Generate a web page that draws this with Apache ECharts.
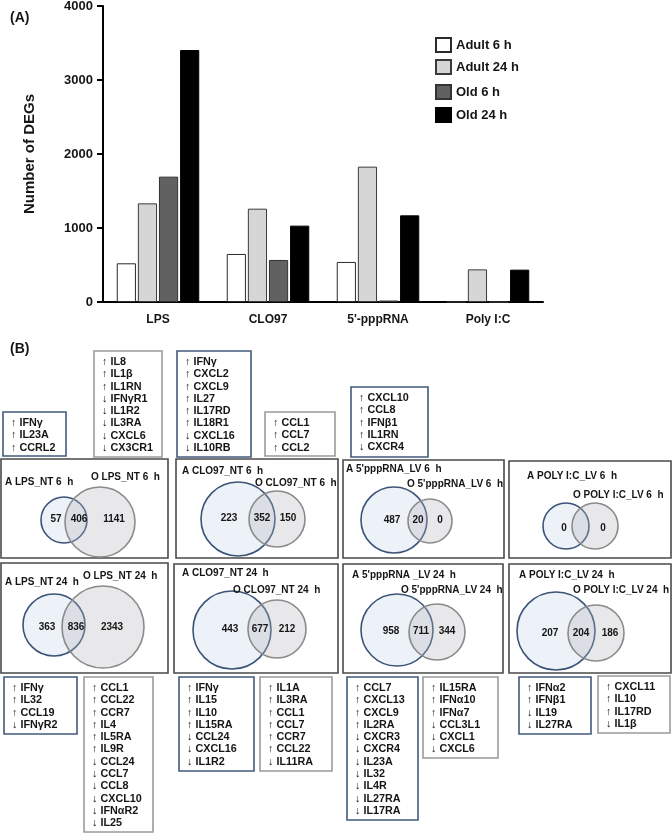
<!DOCTYPE html>
<html>
<head>
<meta charset="utf-8">
<script src="https://cdn.jsdelivr.net/npm/echarts@6/dist/echarts.min.js"></script>
<style>html,body{margin:0;padding:0;background:#fff}#c{width:672px;height:833px}</style>
</head>
<body>
<div id="c"></div>
<script>
// ---------- Panel A data ----------
const categories = ['LPS', 'CLO97', "5'-pppRNA", 'Poly I:C'];
const adult6h  = [523, 649, 541, 0];
const adult24h = [1333, 1261, 1829, 441];
const old6h    = [1694, 568, 20, 0];
const old24h   = [3405, 1032, 1171, 437];
const yTickValues = [0, 1000, 2000, 3000, 4000];

// ---------- Panel B data (Venn counts) ----------
const vennTitleA = ['A LPS_NT 6  h', 'A CLO97_NT 6  h', "A 5'pppRNA_LV 6  h", 'A POLY I:C_LV 6  h',
                    'A LPS_NT 24  h', 'A CLO97_NT 24  h', "A 5'pppRNA _LV 24  h", 'A POLY I:C_LV 24  h'];
const vennTitleO = ['O LPS_NT 6  h', 'O CLO97_NT 6  h', "O 5'pppRNA_LV 6  h", 'O POLY I:C_LV 6  h',
                    'O LPS_NT 24  h', 'O CLO97_NT 24  h', "O 5'pppRNA_LV 24  h", 'O POLY I:C_LV 24  h'];
const adultOnly = [57, 223, 487, 0, 363, 443, 958, 207];
const shared    = [406, 352, 20, null, 836, 677, 711, 204];
const oldOnly   = [1141, 150, 0, 0, 2343, 212, 344, 186];

// ---------- Panel B gene lists ----------
const genesA_LPS6   = ['↑ IFNγ', '↑ IL23A', '↑ CCRL2'];
const genesO_LPS6   = ['↑ IL8', '↑ IL1β', '↑ IL1RN', '↓ IFNγR1', '↓ IL1R2', '↓ IL3RA', '↓ CXCL6', '↓ CX3CR1'];
const genesA_CLO6   = ['↑ IFNγ', '↑ CXCL2', '↑ CXCL9', '↑ IL27', '↑ IL17RD', '↑ IL18R1', '↓ CXCL16', '↓ IL10RB'];
const genesO_CLO6   = ['↑ CCL1', '↑ CCL7', '↑ CCL2'];
const genesA_PPP6   = ['↑ CXCL10', '↑ CCL8', '↑ IFNβ1', '↑ IL1RN', '↓ CXCR4'];
const genesA_LPS24  = ['↑ IFNγ', '↑ IL32', '↑ CCL19', '↓ IFNγR2'];
const genesO_LPS24  = ['↑ CCL1', '↑ CCL22', '↑ CCR7', '↑ IL4', '↑ IL5RA', '↑ IL9R', '↓ CCL24', '↓ CCL7', '↓ CCL8', '↓ CXCL10', '↓ IFNαR2', '↓ IL25'];
const genesA_CLO24  = ['↑ IFNγ', '↑ IL15', '↑ IL10', '↑ IL15RA', '↓ CCL24', '↓ CXCL16', '↓ IL1R2'];
const genesO_CLO24  = ['↑ IL1A', '↑ IL3RA', '↑ CCL1', '↑ CCL7', '↑ CCR7', '↑ CCL22', '↓ IL11RA'];
const genesA_PPP24  = ['↑ CCL7', '↑ CXCL13', '↑ CXCL9', '↑ IL2RA', '↓ CXCR3', '↓ CXCR4', '↓ IL23A', '↓ IL32', '↓ IL4R', '↓ IL27RA', '↓ IL17RA'];
const genesO_PPP24  = ['↑ IL15RA', '↑ IFNα10', '↑ IFNα7', '↓ CCL3L1', '↓ CXCL1', '↓ CXCL6'];
const genesA_POLY24 = ['↑ IFNα2', '↑ IFNβ1', '↓ IL19', '↓ IL27RA'];
const genesO_POLY24 = ['↑ CXCL11', '↑ IL10', '↑ IL17RD', '↓ IL1β'];
const geneLists = [genesA_LPS6, genesO_LPS6, genesA_CLO6, genesO_CLO6, genesA_PPP6,
                   genesA_LPS24, genesO_LPS24, genesA_CLO24, genesO_CLO24, genesA_PPP24, genesO_PPP24, genesA_POLY24, genesO_POLY24];

// ---------- Layout (positions / sizes, in page units) ----------
const vennLayout = [
  {box:[1,459,168,558], tA:[5,482], tO:[91,477], a:[64,520,23], o:[100,522,35], lx:[56,79,114], ly:519},
  {box:[176,459,338,558], tA:[182,471], tO:[255,483], a:[238,519,37], o:[277,519,28], lx:[229,262,288], ly:518},
  {box:[343,460,504,558], tA:[346,469], tO:[407,484], a:[394,520,33], o:[430,521,22], lx:[392,418,440], ly:520},
  {box:[509,461,671,558], tA:[527,476], tO:[573,495], a:[566,526,23], o:[595,526,23], lx:[564,580,603], ly:528},
  {box:[1,563,168,673], tA:[5,582], tO:[83,576], a:[54,625,31], o:[103,627,41], lx:[47,76,112], ly:627},
  {box:[174,564,338,673], tA:[182,573], tO:[233,590], a:[232,630,39], o:[277,629,29], lx:[230,260,287], ly:629},
  {box:[343,564,503,673], tA:[352,575], tO:[401,590], a:[397,630,36], o:[437,632,28], lx:[391,421,447], ly:631},
  {box:[509,564,671,673], tA:[519,575], tO:[573,590], a:[556,631,39], o:[596,633,28], lx:[550,581,610], ly:633}
];
const listLayout = [
  {box:[3,412,66,456], kind:'A'},
  {box:[94,351,162,457], kind:'O'},
  {box:[177,351,251,457], kind:'A'},
  {box:[265,412,335,456], kind:'O'},
  {box:[351,387,428,457], kind:'A'},
  {box:[4,677,77,734], kind:'A'},
  {box:[84,677,153,832], kind:'O'},
  {box:[179,677,254,771], kind:'A'},
  {box:[260,677,332,771], kind:'O'},
  {box:[347,677,418,820], kind:'A'},
  {box:[423,677,498,758], kind:'O'},
  {box:[519,677,591,734], kind:'A'},
  {box:[598,676,670,733], kind:'O'}
];

const FONT = 'Liberation Sans, Arial, Helvetica, sans-serif';
const TXT = '#151515';

function txt(x, y, s, align, size) {
  return {type:'text', style:{text:String(s), x:x, y:y, fill:TXT, fontSize:size || 10, fontWeight:'bold', fontFamily:FONT, align:align || 'left', verticalAlign:'middle'}};
}

function renderVenn(params, api) {
  const i = params.dataIndex;
  const L = vennLayout[i];
  const p = (x, y) => api.coord([x, y]);
  const s = r => api.size([r, 0])[0];
  const b0 = p(L.box[0], L.box[1]), b1 = p(L.box[2], L.box[3]);
  const ca = p(L.a[0], L.a[1]), co = p(L.o[0], L.o[1]);
  const ch = [];
  ch.push({type:'rect', shape:{x:b0[0], y:b0[1], width:b1[0]-b0[0], height:b1[1]-b0[1]}, style:{fill:'#fff', stroke:'#4a4a4a', lineWidth:1.6}});
  ch.push({type:'circle', shape:{cx:ca[0], cy:ca[1], r:s(L.a[2])}, style:{fill:'#edf1f8', stroke:'#3a5377', lineWidth:1.6}});
  ch.push({type:'circle', shape:{cx:co[0], cy:co[1], r:s(L.o[2])}, style:{fill:'rgba(180,180,185,0.30)', stroke:'#8a8a8a', lineWidth:1.6}});
  const ta = p(L.tA[0], L.tA[1]), to = p(L.tO[0], L.tO[1]);
  ch.push(txt(ta[0], ta[1], vennTitleA[i]));
  ch.push(txt(to[0], to[1], vennTitleO[i]));
  const vals = [adultOnly[i], shared[i], oldOnly[i]];
  for (let k = 0; k < 3; k++) {
    if (vals[k] === null || vals[k] === undefined) continue;
    const q = p(L.lx[k], L.ly);
    ch.push(txt(q[0], q[1], vals[k], 'center'));
  }
  return {type:'group', children:ch};
}

function renderList(params, api) {
  const i = params.dataIndex;
  const L = listLayout[i];
  const lines = geneLists[i];
  const b0 = api.coord([L.box[0], L.box[1]]), b1 = api.coord([L.box[2], L.box[3]]);
  const step = api.size([0, 12.3])[1];
  const ch = [];
  ch.push({type:'rect', shape:{x:b0[0], y:b0[1], width:b1[0]-b0[0], height:b1[1]-b0[1]},
           style:{fill:'#fff', stroke: L.kind === 'A' ? '#41597c' : '#9b9b9b', lineWidth:1.6}});
  lines.forEach((g, k) => {
    ch.push(txt(b0[0] + 8, b0[1] + 11 + k * step, g, 'left', 10.8));
  });
  return {type:'group', children:ch};
}

const chart = echarts.init(document.getElementById('c'), null, {renderer:'canvas'});
const barBase = {type:'bar', xAxisIndex:0, yAxisIndex:0, barGap:'10%', barCategoryGap:'25%'};

chart.setOption({
  animation:false,
  backgroundColor:'#fff',
  textStyle:{fontFamily:FONT},
  title:[
    {text:'(A)', left:5, top:6, textStyle:{fontSize:14, fontWeight:'bold', color:TXT, fontFamily:FONT}},
    {text:'(B)', left:5, top:337, textStyle:{fontSize:14, fontWeight:'bold', color:TXT, fontFamily:FONT}}
  ],
  legend:[
    {data:['Adult 6 h','Adult 24 h'], orient:'vertical', left:430, top:32, itemWidth:15, itemHeight:14, itemGap:6, icon:'rect',
     textStyle:{fontSize:13, fontWeight:'bold', color:TXT, fontFamily:FONT}},
    {data:['Old 6 h','Old 24 h'], orient:'vertical', left:430, top:79, itemWidth:15, itemHeight:14, itemGap:7, icon:'rect',
     textStyle:{fontSize:13, fontWeight:'bold', color:TXT, fontFamily:FONT}}
  ],
  grid:[
    {left:103, width:440, top:6, height:296, containLabel:false, outerBoundsMode:'none'},
    {left:0, right:0, top:0, bottom:0, containLabel:false, outerBoundsMode:'none'}
  ],
  xAxis:[
    {type:'category', gridIndex:0, data:categories,
     axisLine:{lineStyle:{color:'#000', width:2}},
     axisTick:{alignWithLabel:true, length:5, lineStyle:{color:'#000', width:2}},
     axisLabel:{margin:12, fontSize:12, fontWeight:'bold', color:TXT, fontFamily:FONT, interval:0}},
    {type:'value', gridIndex:1, min:0, max:672, show:false}
  ],
  yAxis:[
    {type:'value', gridIndex:0, min:yTickValues[0], max:yTickValues[yTickValues.length-1], interval:yTickValues[1]-yTickValues[0],
     name:'Number of DEGs', nameLocation:'middle', nameRotate:90, nameGap:66,
     nameTextStyle:{fontSize:15, fontWeight:'bold', color:TXT, fontFamily:FONT},
     axisLine:{show:true, lineStyle:{color:'#000', width:2}},
     axisTick:{show:true, length:6, lineStyle:{color:'#000', width:2}},
     splitLine:{show:false},
     axisLabel:{margin:10, fontSize:13, fontWeight:'bold', color:TXT, fontFamily:FONT, formatter: v => String(v)}},
    {type:'value', gridIndex:1, min:0, max:833, inverse:true, show:false}
  ],
  series:[
    Object.assign({}, barBase, {name:'Adult 6 h', data:adult6h, itemStyle:{color:'#ffffff', borderColor:'#2a2a2a', borderWidth:1}}),
    Object.assign({}, barBase, {name:'Adult 24 h', data:adult24h, itemStyle:{color:'#d6d6d6', borderColor:'#3a3a3a', borderWidth:1}}),
    Object.assign({}, barBase, {name:'Old 6 h', data:old6h, itemStyle:{color:'#616161', borderColor:'#333', borderWidth:1}}),
    Object.assign({}, barBase, {name:'Old 24 h', data:old24h, itemStyle:{color:'#000000', borderColor:'#000', borderWidth:1}}),
    {type:'custom', name:'venn', xAxisIndex:1, yAxisIndex:1, clip:false, silent:true,
     data: adultOnly.map((v, i) => [i, v]), renderItem: renderVenn},
    {type:'custom', name:'genes', xAxisIndex:1, yAxisIndex:1, clip:false, silent:true,
     data: geneLists.map((g, i) => [i, g.length]), renderItem: renderList}
  ]
});
</script>
</body>
</html>
